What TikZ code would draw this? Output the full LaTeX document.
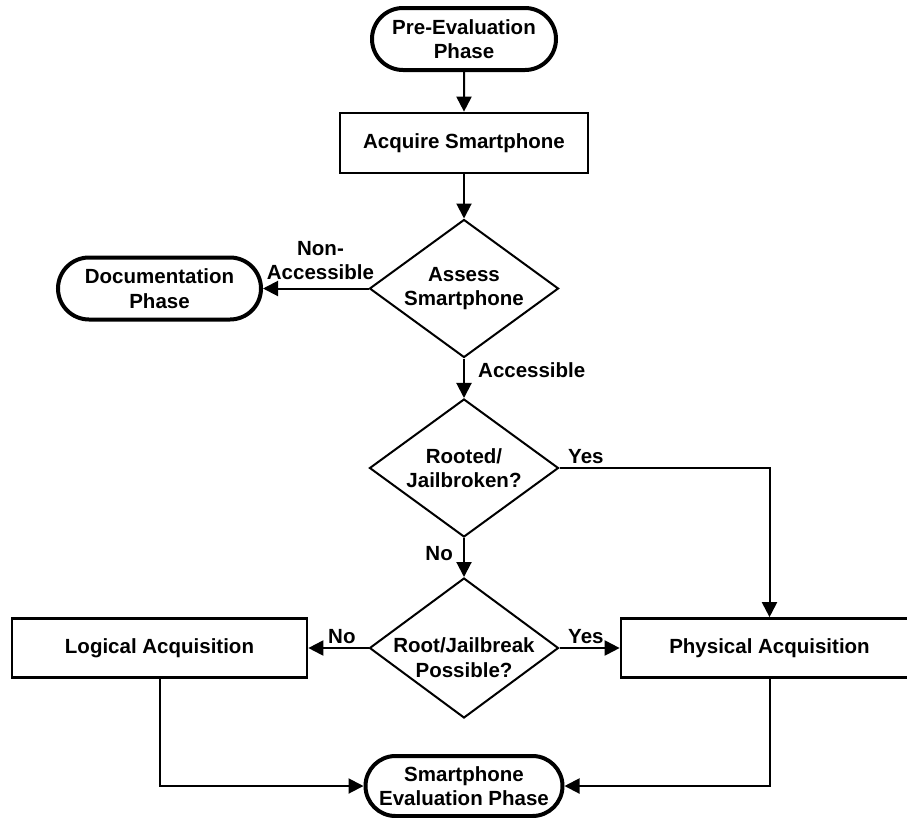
\documentclass[tikz,border=0pt]{standalone}
\usepackage{fontspec}
\setmainfont{Liberation Sans}
\usetikzlibrary{arrows.meta,shapes.geometric,shapes.misc}
\begin{document}
\begin{tikzpicture}[x=1pt,y=-1pt,
  every node/.style={font=\fontsize{20.5pt}{24.5pt}\selectfont\bfseries, align=center},
  term/.style={rounded rectangle, draw, line width=4pt, inner sep=0pt},
  proc/.style={rectangle, draw, line width=2.7pt, inner sep=0pt},
  decision/.style={diamond, draw, line width=2pt, inner xsep=-30pt, inner ysep=0pt,
    minimum width=189pt, minimum height=138pt},
  conn/.style={line width=2pt, -{Triangle[length=15pt,width=15pt]}},
  lbl/.style={inner sep=0pt}]
\useasboundingbox (0,0) rectangle (907,817);
\clip (0,0) rectangle (907,817);

\node[term, minimum width=184pt, minimum height=62pt] (pre) at (464,39) {Pre-Evaluation\\Phase};
\node[proc, minimum width=248pt, minimum height=60pt] (acq) at (464,143) {Acquire Smartphone};
\node[decision] (assess) at (464,288.5) {Assess\\Smartphone};
\node[term, minimum width=203pt, minimum height=62pt] (doc) at (159.5,288.5) {Documentation\\Phase};
\node[decision] (rooted) at (464,468) {Rooted/\\Jailbroken?};
\node[decision] (root) at (464,648) {\rule{0pt}{34pt}Root/Jailbreak\\Possible?};
\node[proc, minimum width=295pt, minimum height=59pt] (logical) at (159.5,648) {Logical Acquisition};
\node[proc, minimum width=297pt, minimum height=59pt] (phys) at (769.5,648) {Physical Acquisition};
\node[term, minimum width=197pt, minimum height=60pt] (smart) at (464,786) {Smartphone\\Evaluation Phase};

\draw[conn] (pre) -- (acq);
\draw[conn] (acq) -- (assess);
\draw[conn] (assess.west) -- (doc.east);
\draw[conn] (assess) -- (rooted);
\draw[conn] (rooted.east) -| (phys.north);
\draw[conn] (rooted) -- (root);
\draw[conn] (root.west) -- (logical.east);
\draw[conn] (root.east) -- (phys.west);
\draw[conn] (logical.south) |- (smart.west);
\draw[conn] (phys.south) |- (smart.east);

\node[lbl, anchor=south] (lna) at (320.5,280) {Non-\\Accessible};
\node[lbl, anchor=base west] (lacc) at (478,377) {Accessible};
\node[lbl, anchor=base west] (lyes1) at (568,463) {Yes};
\node[lbl, anchor=base east] (lno1) at (453,560) {No};
\node[lbl, anchor=base west] (lno2) at (328,643) {No};
\node[lbl, anchor=base west] (lyes2) at (568,643) {Yes};
\end{tikzpicture}
\end{document}
